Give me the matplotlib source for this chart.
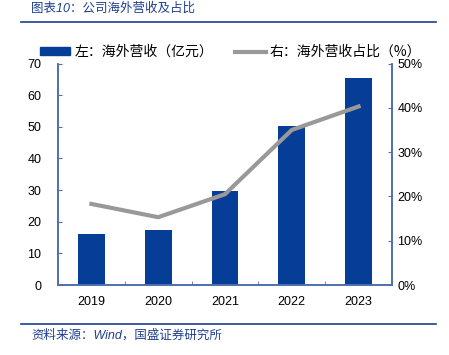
import numpy as np
import matplotlib
matplotlib.use("Agg")
import matplotlib.pyplot as plt
from matplotlib.patches import Patch
from matplotlib.lines import Line2D

plt.rcParams["font.family"] = ["Liberation Sans", "Noto Sans CJK SC", "DejaVu Sans"]

years = ["2019", "2020", "2021", "2022", "2023"]
overseas_rev = [16.2, 17.4, 29.6, 50.3, 65.3]      # 亿元
overseas_share = [18.3, 15.3, 20.5, 35.0, 40.3]    # %

BLUE, GRAY, AXIS = "#063d96", "#999999", "#4f6fae"
TXT = "#1f3f8f"
CJK = ["Noto Sans CJK SC", "DejaVu Sans"]
MIX = ["Liberation Sans", "Noto Sans CJK SC", "DejaVu Sans"]

fig = plt.figure(figsize=(4.49, 3.55), dpi=100)
ax = fig.add_axes([58/449, 1-285/355, (392-58)/449, (285-63.5)/355])
ax2 = ax.twinx()

x = np.arange(len(years))
ax.bar(x, overseas_rev, width=0.4, color=BLUE, zorder=2)
ax2.plot(x, overseas_share, color=GRAY, lw=3, zorder=3)

ax.set_xlim(-0.5, len(years) - 0.5)
ax.set_ylim(0, 70); ax.set_yticks(range(0, 71, 10))
ax2.set_ylim(0, 50); ax2.set_yticks(range(0, 51, 10))
ax2.set_yticklabels([f"{v}%" for v in range(0, 51, 10)])
ax.set_xticks(x); ax.set_xticklabels(years)
ax.set_xticks(np.arange(-0.5, len(years)), minor=True)

for a in (ax, ax2):
    a.spines["top"].set_visible(False)
    for s in ("left", "right", "bottom"):
        a.spines[s].set_color(AXIS); a.spines[s].set_linewidth(1.2)
ax.tick_params(axis="x", which="major", length=0, labelsize=9, pad=8)
ax.tick_params(axis="x", which="minor", direction="in", length=3, color=AXIS)
ax.tick_params(axis="y", direction="in", length=3, color=AXIS, labelsize=9, pad=12)
ax2.tick_params(axis="y", direction="in", length=3, color=AXIS, labelsize=9, pad=4)

# legend
handles = [Patch(color=BLUE), Line2D([0], [0], color=GRAY, lw=3)]
labels = ["左：海外营收（亿元）", "右：海外营收占比（%）"]
fig.legend(handles, labels, loc="center", bbox_to_anchor=(0.5 + 6/449, 1-52/355), ncol=2,
           frameon=False, handlelength=2.2, handleheight=0.5,
           columnspacing=1.6, handletextpad=0.3,
           prop={"family": CJK, "size": 10})

# title, source and rules
fig.text(31/449, 1-9/355, "图表10：公司海外营收及占比", color=TXT, fontsize=9,
         va="center", ha="left", style="italic", family=MIX)
fig.add_artist(Line2D([21/449, 436/449], [1-22/355, 1-22/355], color=TXT, lw=1.2))
fig.add_artist(Line2D([21/449, 436/449], [1-324/355, 1-324/355], color=TXT, lw=1.2))
fig.text(31/449, 1-335/355, "资料来源：Wind，国盛证券研究所", color=TXT, fontsize=9,
         va="center", ha="left", style="italic", family=MIX)

fig.savefig("out.png", dpi=100)
